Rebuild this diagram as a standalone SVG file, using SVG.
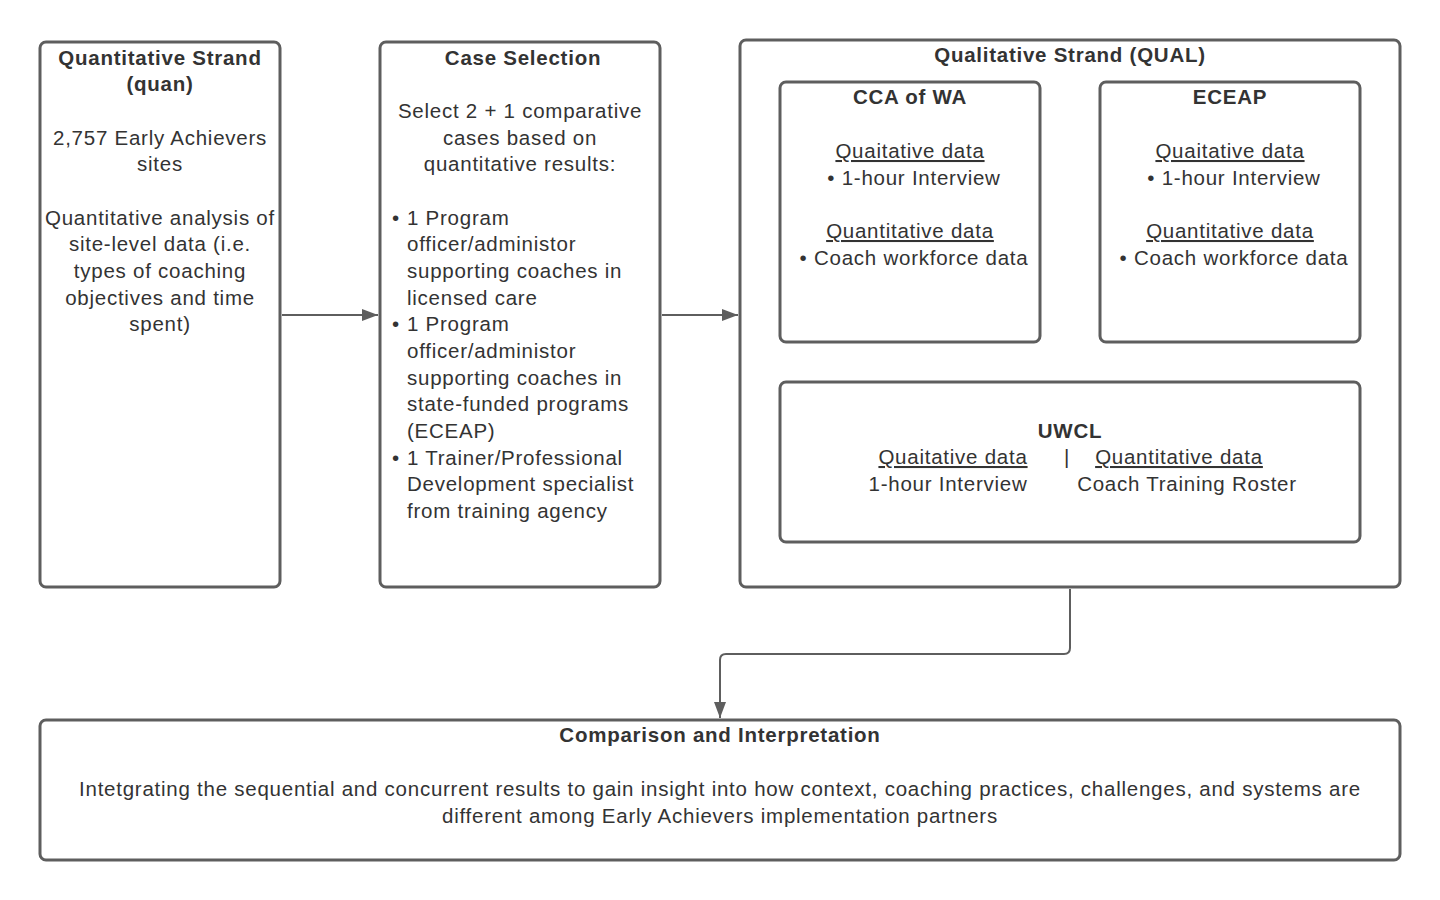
<svg xmlns="http://www.w3.org/2000/svg" width="1440" height="900" viewBox="0 0 1440 900">
<defs>
<style>
.box{fill:#fff;stroke:#5e5e5e;stroke-width:3}
.t{font-family:"Liberation Sans",Arial,sans-serif;font-size:20.5px;letter-spacing:0.75px;fill:#333}
.c{text-anchor:middle}
.b{font-weight:bold}
.u{text-decoration:underline}
.conn{fill:none;stroke:#5e5e5e;stroke-width:2}
</style>
<marker id="arr" viewBox="0 0 16 12" refX="16" refY="6" markerWidth="16" markerHeight="12" markerUnits="userSpaceOnUse" orient="auto">
<path d="M0,0 L16,6 L0,12 Z" fill="#5e5e5e"/>
</marker>
</defs>
<rect width="1440" height="900" fill="#fff"/>
<g id="connectors">
<path class="conn" d="M282,315 H378" marker-end="url(#arr)"/>
<path class="conn" d="M662,315 H738" marker-end="url(#arr)"/>
<path class="conn" d="M1070,589 V648 Q1070,654 1064,654 H726 Q720,654 720,660 V718" marker-end="url(#arr)"/>
</g>
<g id="quan">
<rect class="box" x="40" y="42" width="240" height="545" rx="6"/>
<text class="t c b" x="160" y="65">Quantitative Strand</text>
<text class="t c b" x="160" y="91">(quan)</text>
<text class="t c" x="160" y="145">2,757 Early Achievers</text>
<text class="t c" x="160" y="171">sites</text>
<text class="t c" x="160" y="225">Quantitative analysis of</text>
<text class="t c" x="160" y="251">site-level data (i.e.</text>
<text class="t c" x="160" y="278">types of coaching</text>
<text class="t c" x="160" y="305">objectives and time</text>
<text class="t c" x="160" y="331">spent)</text>
</g>
<g id="case">
<rect class="box" x="380" y="42" width="280" height="545" rx="6"/>
<text class="t c b" x="523" y="65">Case Selection</text>
<text class="t c" x="520" y="118">Select 2 + 1 comparative</text>
<text class="t c" x="520" y="145">cases based on</text>
<text class="t c" x="520" y="171">quantitative results:</text>
<text class="t" x="392" y="225">•</text>
<text class="t" x="407" y="225">1 Program</text>
<text class="t" x="407" y="251">officer/administor</text>
<text class="t" x="407" y="278">supporting coaches in</text>
<text class="t" x="407" y="305">licensed care</text>
<text class="t" x="392" y="331">•</text>
<text class="t" x="407" y="331">1 Program</text>
<text class="t" x="407" y="358">officer/administor</text>
<text class="t" x="407" y="385">supporting coaches in</text>
<text class="t" x="407" y="411">state-funded programs</text>
<text class="t" x="407" y="438">(ECEAP)</text>
<text class="t" x="392" y="465">•</text>
<text class="t" x="407" y="465">1 Trainer/Professional</text>
<text class="t" x="407" y="491">Development specialist</text>
<text class="t" x="407" y="518">from training agency</text>
</g>
<g id="qual">
<rect class="box" x="740" y="40" width="660" height="547" rx="6"/>
<text class="t c b" x="1070" y="62">Qualitative Strand (QUAL)</text>
</g>
<g id="cca">
<rect class="box" x="780" y="82" width="260" height="260" rx="6"/>
<text class="t c b" x="910" y="104">CCA of WA</text>
<text class="t c u" x="910" y="158">Quaitative data</text>
<text class="t c" x="914" y="185">• 1-hour Interview</text>
<text class="t c u" x="910" y="238">Quantitative data</text>
<text class="t c" x="914" y="265">• Coach workforce data</text>
</g>
<g id="eceap">
<rect class="box" x="1100" y="82" width="260" height="260" rx="6"/>
<text class="t c b" x="1230" y="104">ECEAP</text>
<text class="t c u" x="1230" y="158">Quaitative data</text>
<text class="t c" x="1234" y="185">• 1-hour Interview</text>
<text class="t c u" x="1230" y="238">Quantitative data</text>
<text class="t c" x="1234" y="265">• Coach workforce data</text>
</g>
<g id="uwcl">
<rect class="box" x="780" y="382" width="580" height="160" rx="6"/>
<text class="t c b" x="1070" y="438">UWCL</text>
<text class="t c u" x="953" y="464">Quaitative data</text>
<text class="t c" x="1067" y="464">|</text>
<text class="t c u" x="1179" y="464">Quantitative data</text>
<text class="t c" x="948" y="491">1-hour Interview</text>
<text class="t c" x="1187" y="491">Coach Training Roster</text>
</g>
<g id="comparison">
<rect class="box" x="40" y="720" width="1360" height="140" rx="6"/>
<text class="t c b" x="720" y="742">Comparison and Interpretation</text>
<text class="t c" x="720" y="796">Intetgrating the sequential and concurrent results to gain insight into how context, coaching practices, challenges, and systems are</text>
<text class="t c" x="720" y="823">different among Early Achievers implementation partners</text>
</g>
</svg>
